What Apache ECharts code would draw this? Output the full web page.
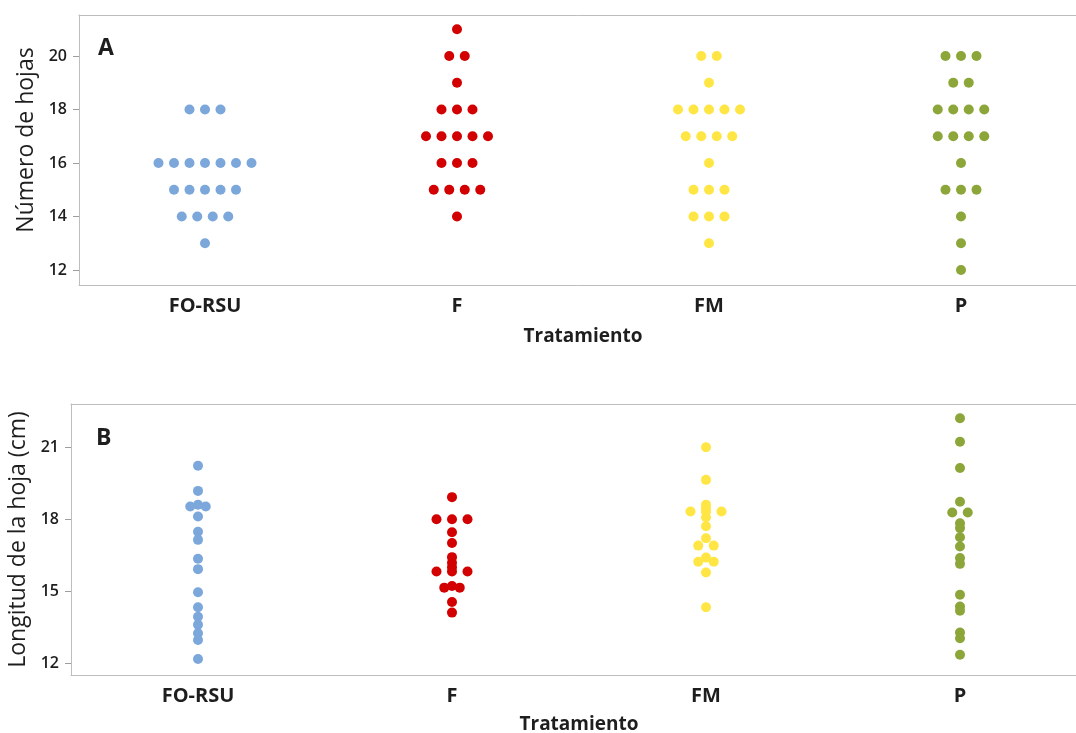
<!DOCTYPE html>
<html>
<head>
<meta charset="utf-8">
<script src="https://cdn.jsdelivr.net/npm/echarts@6/dist/echarts.min.js"></script>
<style>
  html, body { margin: 0; padding: 0; background: #fff; }
  #chart { width: 1076px; height: 733px; }
</style>
</head>
<body>
<div id="chart"></div>
<script>
// Treatments shown on both panels
const categories = ['FO-RSU', 'F', 'FM', 'P'];

// Panel A: number of leaves per plant
const hojasFORSU = [18, 18, 18, 16, 16, 16, 16, 16, 16, 16, 15, 15, 15, 15, 15, 14, 14, 14, 14, 13];
const hojasF     = [21, 20, 20, 19, 18, 18, 18, 17, 17, 17, 17, 17, 16, 16, 16, 15, 15, 15, 15, 14];
const hojasFM    = [20, 20, 19, 18, 18, 18, 18, 18, 17, 17, 17, 17, 16, 15, 15, 15, 14, 14, 14, 13];
const hojasP     = [20, 20, 20, 19, 19, 18, 18, 18, 18, 17, 17, 17, 17, 16, 15, 15, 15, 14, 13, 12];

// Panel B: leaf length (cm)
const longFORSU = [20.23, 19.18, 18.6, 18.53, 18.53, 18.11, 17.48, 17.14, 16.35, 15.92,
                   14.96, 14.33, 13.94, 13.6, 13.25, 12.97, 12.18];
const longF     = [18.92, 18.0, 18.0, 18.0, 17.46, 17.01, 16.42, 16.19, 16.0, 15.82, 15.82, 15.82,
                   15.22, 15.15, 15.15, 14.55, 14.11];
const longFM    = [21.0, 19.64, 18.6, 18.47, 18.32, 18.32, 18.32, 18.08, 17.71, 17.21, 16.9, 16.9,
                   16.4, 16.23, 16.23, 15.78, 14.33];
const longP     = [22.21, 21.23, 20.13, 18.73, 18.28, 18.28, 17.83, 17.63, 17.25, 16.86, 16.38, 16.14,
                   14.85, 14.36, 14.19, 13.28, 13.04, 12.35];

// Tick labels of the two value axes
const ticksA = [12, 14, 16, 18, 20];
const ticksB = [12, 15, 18, 21];

const colors = ['#7BA7DB', '#D20000', '#FFE644', '#8CA639'];
const FONT = '"Open Sans", "Noto Sans", sans-serif';
const STEP = 15.5; // horizontal spacing between stacked dots (px)

// Equal values are stacked side by side, centred on the category
function stacked(values, catIndex) {
  const counts = {};
  values.forEach(v => { counts[String(v)] = (counts[String(v)] || 0) + 1; });
  const seen = {};
  return values.map(v => {
    const k = String(v);
    const n = counts[k];
    const i = seen[k] = (seen[k] === undefined ? 0 : seen[k] + 1);
    return { value: [catIndex, v], symbolOffset: [(i - (n - 1) / 2) * STEP, 0] };
  });
}

const panelA = [hojasFORSU, hojasF, hojasFM, hojasP];
const panelB = [longFORSU, longF, longFM, longP];

function dotSeries(groups, axisIndex) {
  return groups.map((vals, ci) => ({
    type: 'scatter',
    xAxisIndex: axisIndex,
    yAxisIndex: axisIndex,
    symbol: 'circle',
    symbolSize: 10,
    itemStyle: { color: colors[ci], opacity: 1 },
    emphasis: { disabled: true },
    silent: true,
    data: stacked(vals, ci)
  }));
}

const axisGrey = '#BDBDBD';
const textCol = '#1E1E1E';

function xAxisFor(gridIndex, nameGap) {
  return {
    type: 'category',
    gridIndex: gridIndex,
    data: categories,
    boundaryGap: true,
    axisLine: { show: true, lineStyle: { color: axisGrey, width: 1 } },
    axisTick: { show: false },
    axisLabel: { color: textCol, fontFamily: FONT, fontSize: 20, fontWeight: 'bold', margin: 11 },
    name: 'Tratamiento',
    nameLocation: 'middle',
    nameGap: nameGap,
    nameTextStyle: { color: textCol, fontFamily: FONT, fontSize: 19, fontWeight: 'bold' },
    splitLine: { show: false }
  };
}

// Frame line along the top of each panel
function topFrame(gridIndex) {
  return {
    type: 'category',
    gridIndex: gridIndex,
    position: 'top',
    data: categories,
    axisLine: { show: true, lineStyle: { color: axisGrey, width: 1 } },
    axisTick: { show: false },
    axisLabel: { show: false },
    splitLine: { show: false }
  };
}

function yAxisFor(gridIndex, min, max, ticks, name, nameGap, namePad) {
  return {
    type: 'value',
    gridIndex: gridIndex,
    min: min,
    max: max,
    axisLine: { show: true, lineStyle: { color: axisGrey, width: 1 } },
    axisTick: { show: true, length: 6, customValues: ticks, lineStyle: { color: '#9E9E9E' } },
    axisLabel: { color: textCol, fontFamily: FONT, fontSize: 16, fontWeight: 600, margin: 12,
                 customValues: ticks },
    splitLine: { show: false },
    name: name,
    nameLocation: 'middle',
    nameGap: nameGap,
    nameRotate: 90,
    nameTextStyle: { color: textCol, fontFamily: FONT, fontSize: 23, padding: namePad }
  };
}

const chart = echarts.init(document.getElementById('chart'), null, { renderer: 'canvas' });
chart.setOption({
  backgroundColor: '#ffffff',
  animation: false,
  grid: [
    { left: 79, top: 15, width: 1008, height: 270, show: false, containLabel: false, outerBoundsMode: 'none' },
    { left: 71, top: 404, width: 1016, height: 271, show: false, containLabel: false, outerBoundsMode: 'none' }
  ],
  xAxis: [xAxisFor(0, 42), xAxisFor(1, 40), topFrame(0), topFrame(1)],
  yAxis: [
    yAxisFor(0, 11.44, 21.53, ticksA, 'Número de hojas', 40, [0, 0, 0, 20]),
    yAxisFor(1, 11.51, 22.8, ticksB, 'Longitud de la hoja (cm)', 28, 0)
  ],
  graphic: [
    { type: 'text', left: 98, top: 37, style: { text: 'A', fill: textCol, font: 'bold 23px ' + FONT } },
    { type: 'text', left: 96, top: 427, style: { text: 'B', fill: textCol, font: 'bold 23px ' + FONT } }
  ],
  series: [].concat(dotSeries(panelA, 0), dotSeries(panelB, 1))
});
</script>
</body>
</html>
